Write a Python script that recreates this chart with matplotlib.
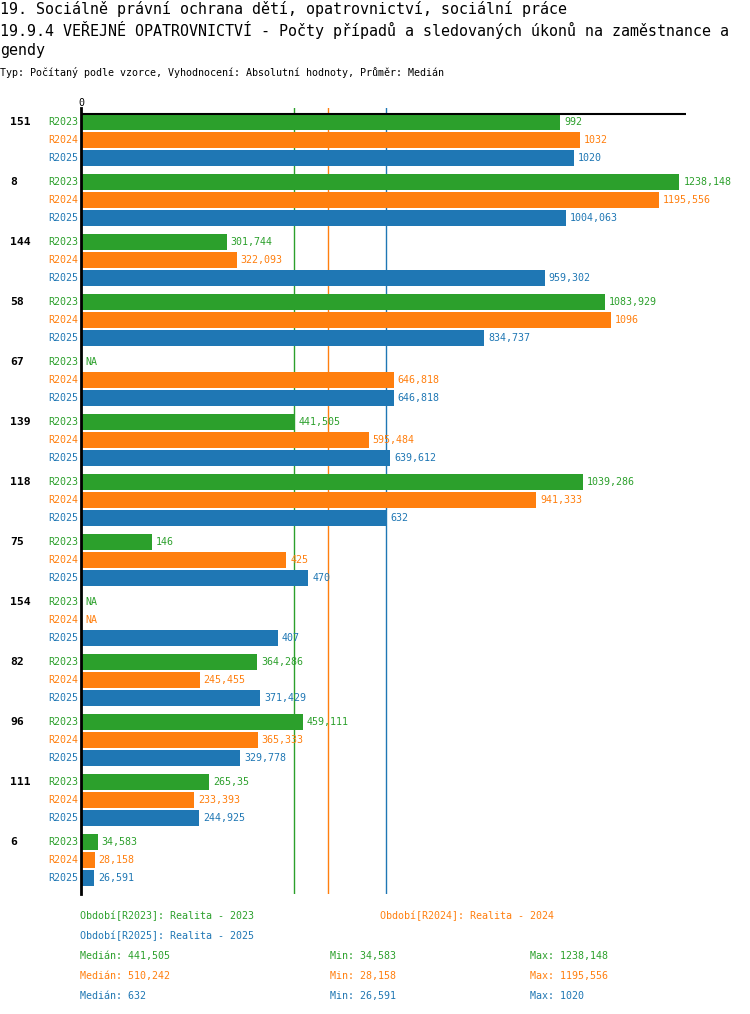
import numpy as np
import matplotlib
matplotlib.use("Agg")
import matplotlib.pyplot as plt
import matplotlib.transforms as mtransforms

# data (None = NA)
categories = ["151", "8", "144", "58", "67", "139", "118", "75", "154", "82", "96", "111", "6"]
series = ["R2023", "R2024", "R2025"]
colors = ["#2ca02c", "#ff7f0e", "#1f77b4"]
r2023 = [992, 1238.148, 301.744, 1083.929, None, 441.505, 1039.286, 146, None, 364.286, 459.111, 265.35, 34.583]
r2024 = [1032, 1195.556, 322.093, 1096, 646.818, 595.484, 941.333, 425, None, 245.455, 365.333, 233.393, 28.158]
r2025 = [1020, 1004.063, 959.302, 834.737, 646.818, 639.612, 632, 470, 407, 371.429, 329.778, 244.925, 26.591]
legend_names = ["Období[R2023]: Realita - 2023", "Období[R2024]: Realita - 2024", "Období[R2025]: Realita - 2025"]

title1 = "19. Sociálně právní ochrana dětí, opatrovnictví, sociální práce"
title2 = "19.9.4 VEŘEJNÉ OPATROVNICTVÍ - Počty případů a sledovaných úkonů na zaměstnance a"
title3 = "gendy"
subtitle = "Typ: Počítaný podle vzorce, Vyhodnocení: Absolutní hodnoty, Průměr: Medián"

FONT = "DejaVu Sans Mono"
plt.rcParams['font.family'] = FONT


def fmt(v):
    s = ("%.3f" % v).rstrip("0").rstrip(".")
    return s.replace(".", ",")


W, H = 750, 1014
fig = plt.figure(figsize=(W / 100, H / 100), dpi=100)
fig.patch.set_facecolor("white")

# axes in pixel layout: x 81..686, y 108..894
ax = fig.add_axes([81 / W, 1 - 894 / H, 605 / W, 786 / H])
ax.set_xlim(0, 1252)
ax.set_ylim(780, -6)
for s in ["top", "right", "bottom"]:
    ax.spines[s].set_visible(False)
ax.spines["left"].set_linewidth(2)
ax.spines["left"].set_color("black")
ax.set_xticks([])
ax.set_yticks([])
ax.axhline(0, color="black", lw=1.5, zorder=4)

all_vals = [r2023, r2024, r2025]
lbl_tr = mtransforms.blended_transform_factory(ax.transAxes, ax.transData)
off = mtransforms.ScaledTranslation(4 / 100, 0, fig.dpi_scale_trans)

# median lines
for vals, c in zip(all_vals, colors):
    med = np.median([v for v in vals if v is not None])
    ax.axvline(med, color=c, lw=1, zorder=1)

for i, cat in enumerate(categories):
    base = 60 * i
    ax.text(-71 / 605, base + 8, cat, transform=lbl_tr, ha="left", va="center",
            fontsize=8.2, fontweight="bold", color="black")
    for j, (vals, c, name) in enumerate(zip(all_vals, colors, series)):
        y = base + 18 * j + 8
        ax.text(-3 / 605, y, name, transform=lbl_tr, ha="right", va="center",
                fontsize=7.2, color=c)
        v = vals[i]
        if v is None:
            ax.text(0, y, "NA", transform=ax.transData + off, ha="left", va="center",
                    fontsize=7.2, color=c)
            continue
        ax.barh(y, v, height=16, color=c, zorder=2)
        ax.text(v, y, fmt(v), transform=ax.transData + off, ha="left", va="center",
                fontsize=7.2, color=c)

ax.text(0, -6, "0", ha="center", va="bottom", fontsize=7.2, color="black")

# titles
fig.text(0, 1 - 9 / H, title1, ha="left", va="center", fontsize=10.8, color="black")
fig.text(0, 1 - 30 / H, title2, ha="left", va="center", fontsize=10.8, color="black")
fig.text(0, 1 - 51 / H, title3, ha="left", va="center", fontsize=10.8, color="black")
fig.text(0, 1 - 73 / H, subtitle, ha="left", va="center", fontsize=7.2, color="black")

# legend and stats
fig.text(80 / W, 1 - 916 / H, legend_names[0], ha="left", va="center", fontsize=7.2, color=colors[0])
fig.text(380 / W, 1 - 916 / H, legend_names[1], ha="left", va="center", fontsize=7.2, color=colors[1])
fig.text(80 / W, 1 - 936 / H, legend_names[2], ha="left", va="center", fontsize=7.2, color=colors[2])
for k, (vals, c) in enumerate(zip(all_vals, colors)):
    vv = [v for v in vals if v is not None]
    yy = 1 - (956 + 20 * k) / H
    fig.text(80 / W, yy, "Medián: " + fmt(np.median(vv)), ha="left", va="center", fontsize=7.2, color=c)
    fig.text(330 / W, yy, "Min: " + fmt(min(vv)), ha="left", va="center", fontsize=7.2, color=c)
    fig.text(530 / W, yy, "Max: " + fmt(max(vv)), ha="left", va="center", fontsize=7.2, color=c)

fig.savefig("out.png", dpi=100, facecolor="white")
